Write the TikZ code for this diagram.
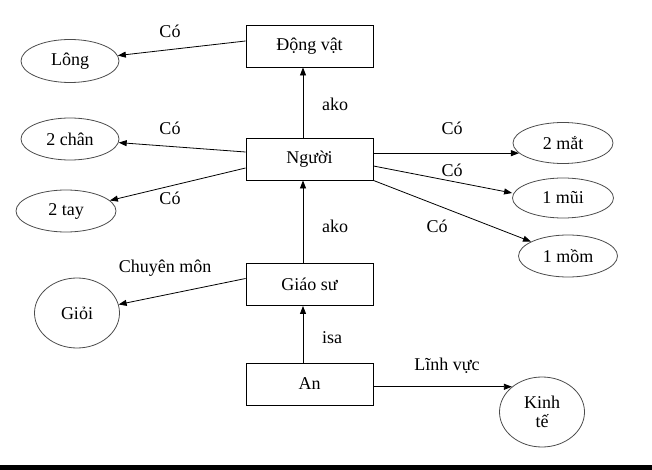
\documentclass[tikz,border=0pt]{standalone}
\usepackage{fontspec}
\setmainfont{Liberation Serif}
\usetikzlibrary{arrows.meta,shapes.geometric}

\tikzset{
	khung/.style={rectangle, draw=black, line width=0.9pt, minimum width=127pt, minimum height=42pt, text centered},
	vong/.style={ellipse, draw=black!70, line width=0.8pt, inner sep=0pt, align=center},
	nhan/.style={inner sep=0pt},
	muiten/.style={-{Triangle[length=8pt,width=6pt]}, line width=0.8pt},
}

\begin{document}
\begin{tikzpicture}[x=1pt, y=-1pt, every node/.style={font=\fontsize{18}{19}\selectfont}]
	\useasboundingbox (0,0) rectangle (652,470);
	\fill[black] (0,465) rectangle (652,470);
	% cac khung
	\node[khung] at (309.5,46) (dv) {Động vật};
	\node[khung] at (309.5,159) (ng) {Người};
	\node[khung] at (309.5,284.5) (gs) {Giáo sư};
	\node[khung] at (309.5,384) (an) {An};
	% cac vong
	\node[vong, minimum width=98pt, minimum height=43pt] at (70,61) (lo) {Lông};
	\node[vong, minimum width=98pt, minimum height=42pt] at (70,139) (ch) {2 chân};
	\node[vong, minimum width=100pt, minimum height=42pt] at (66,211) (ta) {2 tay};
	\node[vong, minimum width=100pt, minimum height=41pt] at (563,143) (ma) {2 mắt};
	\node[vong, minimum width=101pt, minimum height=40pt] at (563,198) (mu) {1 mũi};
	\node[vong, minimum width=99pt, minimum height=42pt] at (568,256) (mo) {1 mồm};
	\node[vong, minimum width=85pt, minimum height=70pt] at (77,313) (gi) {Giỏi};
	\node[vong, minimum width=85pt, minimum height=70pt] at (542,412) (kt) {Kinh\\tế};
	% cac mui ten
	\draw[muiten] ([yshift=5pt]dv.west) -- (lo);
	\draw[muiten] ([yshift=7pt]ng.west) -- (ch);
	\draw[muiten] ([yshift=-9pt]ng.west) -- (ta);
	\draw[muiten] (ng.east |- ma.193) -- (ma.193);
	\draw[muiten] ([yshift=-7pt]ng.east) -- ([yshift=5pt]mu.west);
	\draw[muiten] (ng.south east) -- (mo);
	\draw[muiten] ([xshift=-6.5pt]ng.north) -- ([xshift=-6.5pt]dv.south);
	\draw[muiten] ([xshift=-6.5pt]gs.north) -- ([xshift=-6.5pt]ng.south);
	\draw[muiten] ([xshift=-6.5pt]an.north) -- ([xshift=-6.5pt]gs.south);
	\draw[muiten] ([yshift=6pt]gs.west) -- (gi);
	\draw[muiten] (an.east |- kt.140) -- (kt.140);
	% cac nhan
	\node[nhan] at (170,31) (c1) {Có};
	\node[nhan] at (170,128) (c2) {Có};
	\node[nhan] at (170,198) (c3) {Có};
	\node[nhan] at (452,128) (c4) {Có};
	\node[nhan] at (452,170) (c5) {Có};
	\node[nhan] at (437,226) (c6) {Có};
	\node[nhan] at (335,104) (a1) {ako};
	\node[nhan] at (335,226) (a2) {ako};
	\node[nhan] at (332,338) (is) {isa};
	\node[nhan] at (165,268) (cm) {Chuyên môn};
	\node[nhan] at (447,366) (lv) {Lĩnh vực};
\end{tikzpicture}
\end{document}
